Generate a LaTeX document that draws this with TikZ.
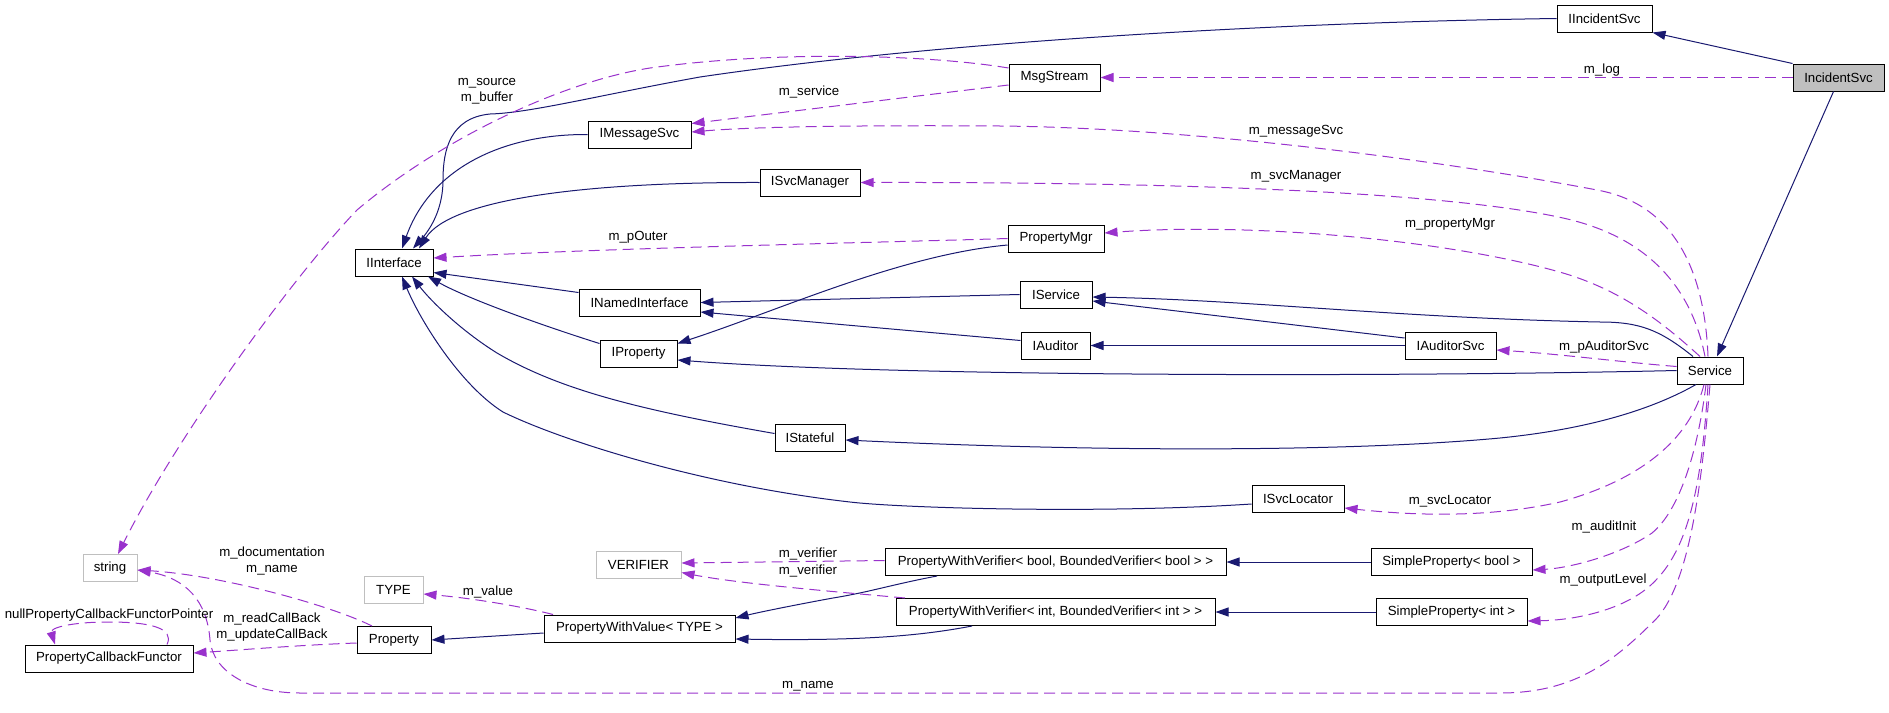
\documentclass[tikz,border=0pt]{standalone}
\usepackage{fontspec}
\setmainfont{Liberation Sans}
\usetikzlibrary{arrows.meta}
\definecolor{inhblue}{RGB}{25,25,112}
\definecolor{useviolet}{RGB}{153,50,204}
\definecolor{extgray}{RGB}{191,191,191}
\tikzset{
collab/.style={x=1pt,y=-1pt,line width=1pt,
font=\fontsize{13.25}{16}\selectfont},
klass/.style={draw,rectangle,minimum width=#1,minimum height=27pt,inner sep=0pt},
klass/.default={80pt},
extklass/.style={klass=#1,draw=extgray},
inherit/.style={inhblue,-{Triangle[length=13pt,width=9pt]}},
uses/.style={useviolet,dash pattern=on 11pt off 6pt,-{Triangle[length=13pt,width=9pt]}},
member/.style={align=center,inner sep=0pt},
}

\begin{document}
\begin{tikzpicture}[collab]
\useasboundingbox (0,0) rectangle (1889,712);
% classes
\node[klass=95pt] (iincident) at (1604.5,18.5) {IIncidentSvc};
\node[klass=91pt,fill=extgray] (incident) at (1838.5,77.5) {IncidentSvc};
\node[klass=91pt] (msgstream) at (1054.5,77.5) {MsgStream};
\node[klass=103pt] (imsg) at (639.5,134.5) {IMessageSvc};
\node[klass=100pt] (isvcmgr) at (810,182.5) {ISvcManager};
\node[klass=78pt] (iinterface) at (394,262.5) {IInterface};
\node[klass=96pt] (propmgr) at (1056,238.5) {PropertyMgr};
\node[klass=72pt] (iservice) at (1056,294.5) {IService};
\node[klass=121pt] (inamed) at (639.5,302.5) {INamedInterface};
\node[klass=69pt] (iauditor) at (1055.5,345.5) {IAuditor};
\node[klass=91pt] (iauditorsvc) at (1450.5,345.5) {IAuditorSvc};
\node[klass=77pt] (iprop) at (638.5,353.5) {IProperty};
\node[klass=66pt] (service) at (1710,370.5) {Service};
\node[klass=70pt] (istateful) at (810,437.5) {IStateful};
\node[klass=92pt] (isvcloc) at (1298,499) {ISvcLocator};
\node[extklass=54pt] (string) at (110,568) {string};
\node[extklass=85pt] (verifier) at (638.5,564.5) {VERIFIER};
\node[klass=341pt] (pwvbool) at (1055.5,562) {PropertyWithVerifier< bool, BoundedVerifier< bool > >};
\node[klass=161pt] (spbool) at (1451.5,562) {SimpleProperty< bool >};
\node[extklass=59pt] (type) at (393.5,590) {TYPE};
\node[klass=319pt] (pwvint) at (1055.5,612) {PropertyWithVerifier< int, BoundedVerifier< int > >};
\node[klass=151pt] (spint) at (1451.5,612) {SimpleProperty< int >};
\node[klass=191pt] (pwv) at (639.5,628.5) {PropertyWithValue< TYPE >};
\node[klass=74pt] (property) at (394,640) {Property};
\node[klass=168pt] (pcf) at (109,658.5) {PropertyCallbackFunctor};

% inheritance
\path[inherit] (incident.north west) edge (iincident.south east);
\path[inherit] ([xshift=-5pt]incident.south) edge ([xshift=7pt]service.north);
\draw[inherit] (iincident.west) .. controls (1300,22) and (950,40) .. (700,77)
  .. controls (600,95) and (530,113) .. (490,114)
  .. controls (450,118) and (443,150) .. (443,180)
  .. controls (443,215) and (425,235) .. ([xshift=19pt]iinterface.north);
\draw[inherit] (imsg.west) .. controls (500,134) and (430,170) .. ([xshift=8pt]iinterface.north);
\draw[inherit] (isvcmgr.west) .. controls (580,182) and (450,200) .. ([xshift=25pt]iinterface.north);
\path[inherit] ([yshift=10pt]inamed.west) edge ([yshift=-10pt]iinterface.east);
\draw[inherit] ([yshift=10pt]iprop.west) .. controls (550,328) and (470,300) .. ([xshift=34pt]iinterface.south);
\draw[inherit] ([yshift=4pt]istateful.west) .. controls (640,410) and (560,390) .. (497,353)
  .. controls (460,330) and (430,300) .. ([xshift=18pt]iinterface.south);
\draw[inherit] ([yshift=-5pt]isvcloc.west) .. controls (1100,514) and (900,508) .. (850,502)
  .. controls (700,485) and (560,440) .. (503,412)
  .. controls (460,385) and (420,320) .. ([xshift=8pt]iinterface.south);
\path[inherit] (iservice.west) edge (inamed.east);
\path[inherit] ([yshift=5pt]iauditor.west) edge ([yshift=-9.5pt]inamed.east);
\draw[inherit] ([yshift=-6.5pt]propmgr.west) .. controls (900,255) and (780,310) .. ([yshift=10pt]iprop.east);
\path[inherit] ([yshift=7.5pt]iauditorsvc.west) edge ([yshift=-6.5pt]iservice.east);
\path[inherit] (iauditorsvc) edge (iauditor);
\draw[inherit] ([xshift=-17pt]service.north) .. controls (1660,330) and (1640,322) .. (1600,322)
  .. controls (1400,318) and (1250,300) .. ([yshift=-2.5pt]iservice.east);
\draw[inherit] (service.west) .. controls (1400,377) and (900,377) .. ([yshift=-6.5pt]iprop.east);
\draw[inherit] ([xshift=-14pt]service.south) .. controls (1660,405) and (1600,428) .. (1500,438)
  .. controls (1350,452) and (1100,452) .. ([yshift=-2.5pt]istateful.east);
\draw[inherit] ([xshift=-118.5pt]pwvbool.south) .. controls (890,585) and (870,592) .. (833,598)
  .. controls (800,604) and (760,612) .. ([yshift=10.5pt]pwv.east);
\draw[inherit] ([xshift=-83.5pt]pwvint.south) .. controls (920,636) and (860,641) .. ([yshift=-10.5pt]pwv.east);
\path[inherit] (spbool) edge (pwvbool);
\path[inherit] (spint) edge (pwvint);
\path[inherit] ([yshift=-4.5pt]pwv.west) edge (property.east);

% members
\path[uses] (incident.west) edge (msgstream.east);
\draw[uses] ([yshift=9.5pt]msgstream.west) .. controls (930,55) and (780,50) .. (650,68)
  .. controls (560,82) and (440,140) .. (357,210)
  .. controls (290,280) and (175,440) .. ([xshift=8pt]string.north);
\path[uses] ([yshift=-7.5pt]msgstream.west) edge ([yshift=11pt]imsg.east);
\draw[uses] ([xshift=-2pt]service.north) .. controls (1705,280) and (1680,205) .. (1597,190)
  .. controls (1450,162) and (1200,128) .. (1000,126)
  .. controls (850,125) and (750,127) .. ([yshift=2.5pt]imsg.east);
\draw[uses] ([xshift=-5pt]service.north) .. controls (1690,280) and (1640,235) .. (1563,218)
  .. controls (1450,193) and (1200,182) .. (isvcmgr.east);
\draw[uses] ([xshift=-10pt]service.north) .. controls (1660,320) and (1620,290) .. (1563,273)
  .. controls (1450,240) and (1250,222) .. ([yshift=5.5pt]propmgr.east);
\draw[uses] (propmgr.west) .. controls (900,242) and (600,248) .. ([yshift=4.5pt]iinterface.east);
\draw[uses] ([yshift=4pt]service.west) .. controls (1620,362) and (1560,354) .. ([yshift=-4.5pt]iauditorsvc.east);
\draw[uses] ([xshift=-6pt]service.south) .. controls (1690,440) and (1640,480) .. (1560,502)
  .. controls (1480,520) and (1400,514) .. ([yshift=-9pt]isvcloc.east);
\draw[uses] ([xshift=-4pt]service.south) .. controls (1698,450) and (1680,510) .. (1652,533)
  .. controls (1620,555) and (1570,568) .. ([yshift=-8pt]spbool.east);
\draw[uses] ([xshift=-2pt]service.south) .. controls (1702,480) and (1690,545) .. (1656,580)
  .. controls (1630,608) and (1580,620) .. ([yshift=-9pt]spint.east);
\draw[uses] (service.south) .. controls (1702,480) and (1690,590) .. (1652,623)
  .. controls (1610,665) and (1570,693) .. (1500,693) -- (300,693)
  .. controls (250,693) and (213,672) .. (210,640)
  .. controls (207,600) and (185,578) .. ([yshift=-2pt]string.east);
\path[uses] ([yshift=1.5pt]pwvbool.west) edge ([yshift=1.5pt]verifier.east);
\draw[uses] ([xshift=-150.5pt]pwvint.north) .. controls (850,593) and (740,584) .. ([yshift=-8pt]verifier.east);
\draw[uses] ([xshift=-86.5pt]pwv.north) .. controls (520,606) and (470,598) .. ([yshift=-4pt]type.east);
\draw[uses] ([xshift=-22pt]property.north) .. controls (330,605) and (220,575) .. ([yshift=-2pt]string.east);
\draw[uses] ([yshift=-3pt]property.west) .. controls (300,645) and (240,650) .. ([yshift=5.5pt]pcf.east);
\draw[uses] ([xshift=58pt]pcf.north) .. controls (175,628) and (150,622) .. (109,622)
  .. controls (70,622) and (50,628) .. ([xshift=-54pt]pcf.north);

% member names
\node[member] (lbllog) at (1602,70) {m\_log};
\node[member] (lblsource) at (487,91) {m\_source\\m\_buffer};
\node[member] (lblservice) at (809,92) {m\_service};
\node[member] (lblmsgsvc) at (1296,131) {m\_messageSvc};
\node[member] (lblsvcmgr) at (1296,176) {m\_svcManager};
\node[member] (lblpropmgr) at (1450,224) {m\_propertyMgr};
\node[member] (lblouter) at (638,237) {m\_pOuter};
\node[member] (lblauditsvc) at (1604,347) {m\_pAuditorSvc};
\node[member] (lblsvcloc) at (1450,501) {m\_svcLocator};
\node[member] (lblauditinit) at (1604,527) {m\_auditInit};
\node[member] (lbloutlevel) at (1603,580) {m\_outputLevel};
\node[member] (lblverbool) at (808,554) {m\_verifier};
\node[member] (lblverint) at (808,571) {m\_verifier};
\node[member] (lbldoc) at (272,561) {m\_documentation\\m\_name};
\node[member] (lblnull) at (109,615) {nullPropertyCallbackFunctorPointer};
\node[member] (lblcallback) at (272,627) {m\_readCallBack\\m\_updateCallBack};
\node[member] (lblvalue) at (488,592) {m\_value};
\node[member] (lblname) at (808,686) {m\_name};
\end{tikzpicture}
\end{document}
